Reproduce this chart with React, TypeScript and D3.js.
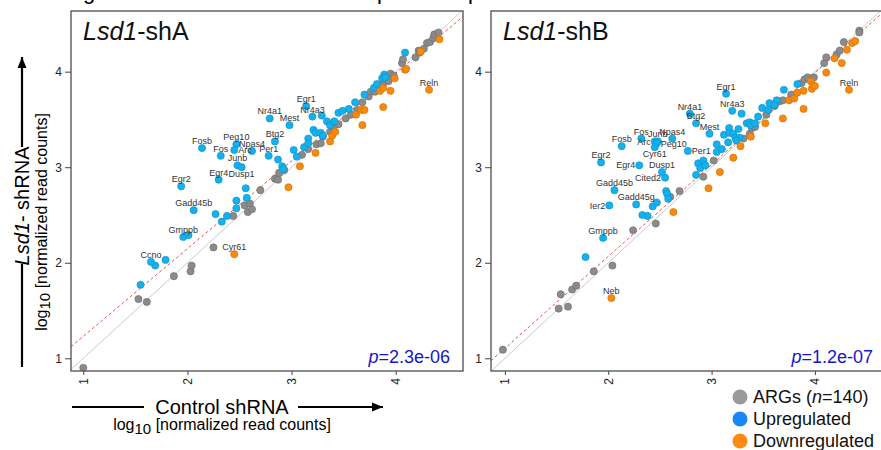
import React, { useEffect, useRef } from 'react';
import * as d3 from 'd3';

type Pt = [number, number];
type Gene = { gene: string; x: number; y: number };

// values are log10 normalized read counts: [control shRNA, Lsd1 shRNA]

// ---- Lsd1-shA
const shA_args: Pt[] = [
  [1.0, 0.9], [1.53, 1.62], [1.61, 1.59], [1.87, 1.86], [2.03, 1.91], [2.04, 1.97], [2.25, 2.16],
  [2.44, 2.49], [2.55, 2.6], [2.58, 2.53], [2.6, 2.62], [2.62, 2.56], [2.7, 2.76], [2.84, 2.88],
  [2.87, 2.87], [2.88, 2.94], [2.93, 2.97], [3.1, 3.13], [3.16, 3.19], [3.24, 3.24], [3.28, 3.25],
  [3.3, 3.32], [3.37, 3.37], [3.4, 3.42], [3.45, 3.45], [3.52, 3.51], [3.57, 3.55], [3.63, 3.6],
  [3.68, 3.68], [3.74, 3.74], [3.76, 3.79], [3.8, 3.79], [3.85, 3.85], [3.88, 3.88], [3.93, 3.9],
  [3.95, 3.98], [3.98, 3.96], [4.06, 4.09], [4.07, 4.13], [4.19, 4.15], [4.22, 4.22], [4.23, 4.2],
  [4.27, 4.24], [4.3, 4.3], [4.33, 4.31], [4.36, 4.35], [4.37, 4.39], [4.41, 4.41],
];
const shA_up: Pt[] = [
  [2.01, 2.29], [1.69, 1.97], [1.79, 2.03], [1.55, 1.77], [2.27, 2.51], [2.33, 2.43], [2.38, 2.49],
  [2.47, 2.65], [2.47, 2.57], [2.56, 2.78], [2.57, 2.68], [2.87, 3.08], [2.91, 3.01], [2.92, 2.98],
  [3.02, 3.18], [3.05, 3.11], [3.12, 3.21], [3.16, 3.3], [3.16, 3.25], [3.21, 3.39], [3.23, 3.36],
  [3.28, 3.36], [3.3, 3.33], [3.29, 3.54], [3.34, 3.48], [3.37, 3.44], [3.41, 3.48], [3.45, 3.57],
  [3.49, 3.59], [3.55, 3.61], [3.61, 3.68], [3.7, 3.76], [3.79, 3.83], [3.82, 3.87], [3.87, 3.93],
  [3.89, 3.97], [3.9, 3.94], [4.09, 4.2],
];
const shA_down: Pt[] = [
  [2.97, 2.79], [3.08, 3.01], [3.23, 3.15], [3.37, 3.27], [3.39, 3.33], [3.42, 3.37], [3.62, 3.55],
  [3.67, 3.6], [3.7, 3.6], [3.68, 3.44], [3.85, 3.8], [3.88, 3.83], [3.88, 3.63], [3.95, 3.8],
  [3.99, 3.93], [4.09, 4.02], [4.1, 4.03], [4.24, 4.21], [4.42, 4.34],
];
const shA_upGenes: Gene[] = [
  { gene: 'Egr1', x: 3.14, y: 3.64 }, { gene: 'Nr4a3', x: 3.2, y: 3.53 },
  { gene: 'Nr4a1', x: 2.79, y: 3.51 }, { gene: 'Mest', x: 2.98, y: 3.44 },
  { gene: 'Btg2', x: 2.84, y: 3.27 }, { gene: 'Peg10', x: 2.47, y: 3.24 },
  { gene: 'Fosb', x: 2.14, y: 3.2 }, { gene: 'Fos', x: 2.32, y: 3.12 },
  { gene: 'Arc', x: 2.45, y: 3.18 }, { gene: 'Npas4', x: 2.62, y: 3.17 },
  { gene: 'Per1', x: 2.78, y: 3.12 }, { gene: 'Junb', x: 2.48, y: 3.02 },
  { gene: 'Dusp1', x: 2.52, y: 3.0 }, { gene: 'Egr4', x: 2.3, y: 2.87 },
  { gene: 'Egr2', x: 1.94, y: 2.8 }, { gene: 'Gadd45b', x: 2.06, y: 2.55 },
  { gene: 'Gmppb', x: 1.96, y: 2.27 }, { gene: 'Ccno', x: 1.65, y: 2.01 },
];
const shA_downGenes: Gene[] = [
  { gene: 'Cyr61', x: 2.45, y: 2.09 }, { gene: 'Reln', x: 4.32, y: 3.81 },
];
const shA_fit = { intercept: 0.312, slope: 0.918 };
const shA_p = '2.3e-06';

// ---- Lsd1-shB
const shB_args: Pt[] = [
  [0.98, 1.09], [1.52, 1.52], [1.61, 1.54], [1.54, 1.67], [1.65, 1.72], [1.69, 1.76], [1.86, 1.91],
  [2.04, 1.97], [2.24, 2.34], [2.46, 2.41], [2.6, 2.69], [2.69, 2.75], [2.92, 2.9], [3.02, 3.07],
  [3.31, 3.3], [3.37, 3.35], [3.39, 3.41], [3.42, 3.42], [3.53, 3.55], [3.61, 3.64], [3.66, 3.69],
  [3.69, 3.7], [3.77, 3.76], [3.87, 3.88], [3.9, 3.92], [3.93, 3.94], [3.99, 3.94], [4.09, 4.09],
  [4.11, 4.15], [4.21, 4.18], [4.24, 4.22], [4.28, 4.31], [4.43, 4.43], [4.43, 4.41],
];
const shB_up: Pt[] = [
  [1.78, 2.06], [2.33, 2.5], [2.38, 2.49], [2.43, 2.59], [2.47, 2.63], [2.56, 2.75], [2.57, 2.72],
  [2.58, 2.67], [2.85, 2.92], [2.87, 3.04], [2.89, 2.99], [2.92, 3.07], [2.94, 3.02], [3.05, 3.24],
  [3.05, 3.16], [3.1, 3.19], [3.12, 3.34], [3.17, 3.41], [3.17, 3.36], [3.21, 3.35], [3.23, 3.31],
  [3.26, 3.4], [3.27, 3.31], [3.16, 3.26], [3.24, 3.28], [3.29, 3.56], [3.34, 3.46], [3.37, 3.47],
  [3.38, 3.44], [3.42, 3.46], [3.45, 3.53], [3.49, 3.62], [3.55, 3.6], [3.56, 3.67], [3.63, 3.7],
  [3.61, 3.65], [3.7, 3.81], [3.83, 3.87],
];
const shB_down: Pt[] = [
  [2.63, 2.53], [2.97, 2.78], [3.08, 2.95], [3.21, 3.1], [3.28, 3.22], [3.38, 3.32], [3.52, 3.46],
  [3.69, 3.51], [3.75, 3.7], [3.8, 3.72], [3.89, 3.61], [3.83, 3.78], [3.89, 3.8], [3.96, 3.9],
  [3.97, 3.82], [3.98, 3.86], [4.0, 3.85], [4.11, 3.99], [4.19, 4.14], [4.26, 4.09], [4.31, 4.23],
  [4.36, 4.3], [4.39, 4.32],
];
const shB_upGenes: Gene[] = [
  { gene: 'Egr1', x: 3.14, y: 3.77 }, { gene: 'Nr4a3', x: 3.2, y: 3.59 },
  { gene: 'Nr4a1', x: 2.79, y: 3.56 }, { gene: 'Btg2', x: 2.85, y: 3.46 },
  { gene: 'Mest', x: 2.98, y: 3.35 }, { gene: 'Fos', x: 2.32, y: 3.3 },
  { gene: 'Npas4', x: 2.62, y: 3.3 }, { gene: 'Arc', x: 2.45, y: 3.27 },
  { gene: 'Junb', x: 2.48, y: 3.27 }, { gene: 'Peg10', x: 2.47, y: 3.25 },
  { gene: 'Fosb', x: 2.13, y: 3.22 }, { gene: 'Cyr61', x: 2.45, y: 3.21 },
  { gene: 'Per1', x: 2.77, y: 3.17 }, { gene: 'Egr2', x: 1.93, y: 3.05 },
  { gene: 'Egr4', x: 2.3, y: 3.02 }, { gene: 'Dusp1', x: 2.52, y: 2.95 },
  { gene: 'Cited2', x: 2.55, y: 2.89 }, { gene: 'Gadd45b', x: 2.06, y: 2.76 },
  { gene: 'Gadd45g', x: 2.27, y: 2.61 }, { gene: 'Ier2', x: 2.01, y: 2.6 },
  { gene: 'Gmppb', x: 1.95, y: 2.26 },
];
const shB_downGenes: Gene[] = [
  { gene: 'Neb', x: 2.03, y: 1.63 }, { gene: 'Reln', x: 4.33, y: 3.81 },
];
const shB_fit = { intercept: 0.144, slope: 0.961 };
const shB_p = '1.2e-07';

const axisTicks = [1, 2, 3, 4];
const legendItems = ['ARGs', 'Upregulated', 'Downregulated'];
const argCount = 140;

// where a gene label sits relative to its point (default: above)
const labelSide: Record<string, string> = {
  'A:Arc': 'right', 'A:Dusp1': 'below',
  'B:Arc': 'left', 'B:Peg10': 'right', 'B:Cyr61': 'below', 'B:Per1': 'right',
  'B:Egr4': 'left', 'B:Cited2': 'left', 'B:Ier2': 'left',
};

const FONT = "'Liberation Sans', Arial, Helvetica, sans-serif";
const GRAY = { fill: '#8b8b8b', stroke: '#6b6b6b' };
const BLUE = { fill: '#14b1ee', stroke: '#0b8dc2' };
const ORANGE = { fill: '#f7890f', stroke: '#cf6f00' };
const top = 11;
const bottom = 371;

const panels = [
  { id: 'A', name: 'shA', left: 71, right: 463, xDomain: [0.882, 4.646], args: shA_args, up: shA_up, down: shA_down,
    upGenes: shA_upGenes, downGenes: shA_downGenes, fit: shA_fit, p: shA_p },
  { id: 'B', name: 'shB', left: 491, right: 886, xDomain: [0.865, 4.688], args: shB_args, up: shB_up, down: shB_down,
    upGenes: shB_upGenes, downGenes: shB_downGenes, fit: shB_fit, p: shB_p },
];

function drawPanel(svg: any, p: any) {
  const x = d3.scaleLinear().domain(p.xDomain).range([p.left, p.right]);
  const y = d3.scaleLinear().domain([0.867, 4.635]).range([bottom, top]);
  const clipId = 'clip' + p.id;
  svg.append('clipPath').attr('id', clipId).append('rect')
    .attr('x', p.left).attr('y', top).attr('width', p.right - p.left).attr('height', bottom - top);

  const g = svg.append('g');
  const inner = g.append('g').attr('clip-path', `url(#${clipId})`);
  const [x0, x1] = p.xDomain;
  inner.append('line')
    .attr('x1', x(x0)).attr('y1', y(x0)).attr('x2', x(x1)).attr('y2', y(x1))
    .attr('stroke', '#c4c4c4').attr('stroke-width', 0.9);
  inner.append('line')
    .attr('x1', x(x0)).attr('y1', y(p.fit.intercept + p.fit.slope * x0))
    .attr('x2', x(x1)).attr('y2', y(p.fit.intercept + p.fit.slope * x1))
    .attr('stroke', '#f0504a').attr('stroke-width', 1).attr('stroke-dasharray', '3,2.5');

  const dots = (data: Pt[], c: { fill: string; stroke: string }) => {
    inner.append('g').selectAll('circle').data(data).enter().append('circle')
      .attr('cx', (d: Pt) => x(d[0])).attr('cy', (d: Pt) => y(d[1])).attr('r', 3.6)
      .attr('fill', c.fill).attr('stroke', c.stroke).attr('stroke-width', 0.6);
  };
  dots(p.args, GRAY);
  dots(p.up, BLUE);
  dots(p.upGenes.map((d: Gene) => [d.x, d.y]), BLUE);
  dots(p.down, ORANGE);
  dots(p.downGenes.map((d: Gene) => [d.x, d.y]), ORANGE);

  // gene labels
  const genes: Gene[] = [...p.upGenes, ...p.downGenes];
  g.append('g').selectAll('text').data(genes).enter().append('text')
    .each(function (this: SVGTextElement, d: Gene) {
      const side = labelSide[p.id + ':' + d.gene] || 'above';
      const t = d3.select(this);
      const px = x(d.x);
      const py = y(d.y);
      if (side === 'above') t.attr('x', px).attr('y', py - 4).attr('text-anchor', 'middle');
      if (side === 'below') t.attr('x', px).attr('y', py + 10).attr('text-anchor', 'middle');
      if (side === 'right') t.attr('x', px + 4).attr('y', py + 3.2).attr('text-anchor', 'start');
      if (side === 'left') t.attr('x', px - 4).attr('y', py + 3.2).attr('text-anchor', 'end');
    })
    .attr('font-size', 9).attr('fill', '#333').attr('font-family', FONT)
    .text((d: Gene) => d.gene);

  // frame
  g.append('rect')
    .attr('x', p.left).attr('y', top).attr('width', p.right - p.left).attr('height', bottom - top)
    .attr('fill', 'none').attr('stroke', '#5a5a5a').attr('stroke-width', 1.4);

  // axes
  const ya = g.append('g').attr('transform', `translate(${p.left},0)`)
    .call(d3.axisLeft(y).tickValues(axisTicks).tickSize(6).tickPadding(3).tickFormat(d3.format('d')));
  const xa = g.append('g').attr('transform', `translate(0,${bottom})`)
    .call(d3.axisBottom(x).tickValues(axisTicks).tickSize(4).tickFormat(d3.format('d')));
  [ya, xa].forEach((a) => {
    a.select('.domain').remove();
    a.selectAll('line').attr('stroke', '#444');
    a.selectAll('text').attr('font-size', 12).attr('font-family', FONT).attr('fill', '#222');
  });
  xa.selectAll('text')
    .attr('y', null).attr('dy', null)
    .attr('transform', 'translate(0,7) rotate(-90)')
    .attr('text-anchor', 'end').attr('dominant-baseline', 'central');

  // title
  const title = g.append('text').attr('x', p.left + 12).attr('y', 40)
    .attr('font-size', 25).attr('font-family', FONT).attr('fill', '#111');
  title.append('tspan').attr('font-style', 'italic').text('Lsd1');
  title.append('tspan').text('-' + p.name);

  // p value
  const pv = g.append('text').attr('x', p.right - 13).attr('y', 363)
    .attr('text-anchor', 'end').attr('font-size', 18).attr('font-family', FONT).attr('fill', '#1616c8');
  pv.append('tspan').attr('font-style', 'italic').text('p');
  pv.append('tspan').text('=' + p.p);
}

function arrow(g: any, x1: number, y1: number, x2: number, y2: number, head: boolean) {
  g.append('line').attr('x1', x1).attr('y1', y1).attr('x2', x2).attr('y2', y2)
    .attr('stroke', '#000').attr('stroke-width', 2.2);
  if (head) {
    const a = Math.atan2(y2 - y1, x2 - x1);
    const L = 11, w = 4.5;
    const bx = x2 - L * Math.cos(a), by = y2 - L * Math.sin(a);
    const pts = [
      [x2, y2],
      [bx + w * Math.sin(a), by - w * Math.cos(a)],
      [bx - w * Math.sin(a), by + w * Math.cos(a)],
    ];
    g.append('path').attr('d', d3.line()(pts as any) + 'Z').attr('fill', '#000');
  }
}

const App = () => {
  const ref = useRef<SVGSVGElement>(null);

  useEffect(() => {
    const svg = d3.select(ref.current);
    svg.selectAll('*').remove();
    svg.append('rect').attr('width', 881).attr('height', 450).attr('fill', '#fff');

    // cropped figure heading, only its descenders are visible
    [['g', 83], ['p', 377], ['p', 468]].forEach(([s, px]) => {
      svg.append('text').attr('x', px).attr('y', -1.5).attr('font-size', 22)
        .attr('font-family', FONT).text(s as string);
    });

    panels.forEach((p) => drawPanel(svg, p));

    // y axis title
    const yt = svg.append('g');
    arrow(yt, 22, 147, 22, 57, true);
    arrow(yt, 22, 264, 22, 367, false);
    const ytt = yt.append('text').attr('transform', 'translate(22,206) rotate(-90)')
      .attr('text-anchor', 'middle').attr('dominant-baseline', 'central')
      .attr('font-size', 20).attr('font-family', FONT);
    ytt.append('tspan').attr('font-style', 'italic').text('Lsd1');
    ytt.append('tspan').text('- shRNA');
    const ys = yt.append('text').attr('transform', 'translate(41,222) rotate(-90)')
      .attr('text-anchor', 'middle').attr('dominant-baseline', 'central')
      .attr('font-size', 16).attr('font-family', FONT);
    ys.append('tspan').text('log');
    ys.append('tspan').attr('font-size', 15).attr('dy', 3).text('10');
    ys.append('tspan').attr('dy', -3).text(' [normalized read counts]');

    // x axis title
    const xt = svg.append('g');
    arrow(xt, 72, 407, 144, 407, false);
    arrow(xt, 298, 407, 383, 407, true);
    xt.append('text').attr('x', 222).attr('y', 414).attr('text-anchor', 'middle')
      .attr('font-size', 20).attr('font-family', FONT).text('Control shRNA');
    const xs = xt.append('text').attr('x', 222).attr('y', 430).attr('text-anchor', 'middle')
      .attr('font-size', 16).attr('font-family', FONT);
    xs.append('tspan').text('log');
    xs.append('tspan').attr('font-size', 15).attr('dy', 4).text('10');
    xs.append('tspan').attr('dy', -4).text(' [normalized read counts]');

    // legend
    const legColors = ['#9a9a9a', '#1788f5', '#ff8a12'];
    const lg = svg.append('g');
    legendItems.forEach((name, i) => {
      const cy = 397 + i * 22;
      lg.append('circle').attr('cx', 740).attr('cy', cy).attr('r', 7.5).attr('fill', legColors[i]);
      const t = lg.append('text').attr('x', 753).attr('y', cy).attr('dominant-baseline', 'central')
        .attr('font-size', 18).attr('font-family', FONT).attr('fill', '#111');
      if (i === 0) {
        t.append('tspan').text(name + ' (');
        t.append('tspan').attr('font-style', 'italic').text('n');
        t.append('tspan').text('=' + argCount + ')');
      } else {
        t.text(name);
      }
    });
  }, []);

  return (
    <svg ref={ref} width={881} height={450}
      style={{ position: 'absolute', left: 0, top: 0, display: 'block' }} />
  );
};

export default App;
